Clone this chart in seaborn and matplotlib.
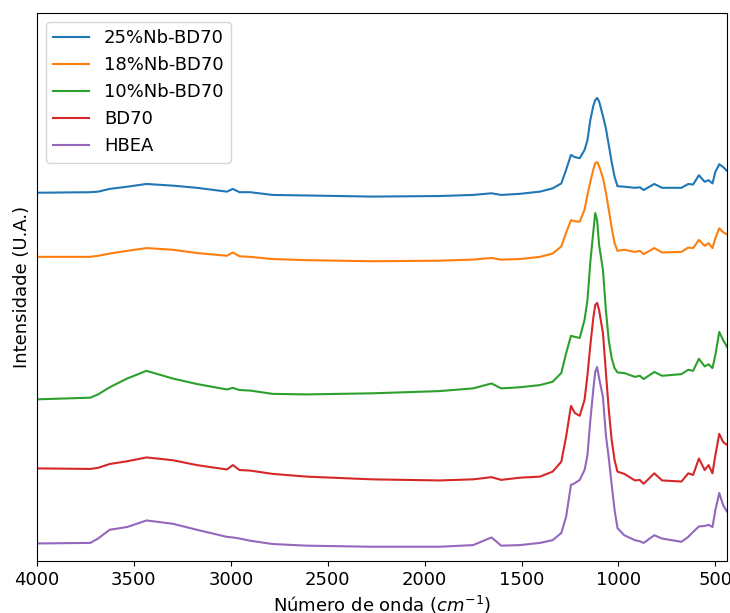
import numpy as np
import pandas as pd
import matplotlib
matplotlib.use("Agg")
import matplotlib.pyplot as plt
import seaborn as sns

# Wavenumber grid (cm^-1), shared by all spectra
wavenumber = [
    4000, 3725, 3685, 3625, 3535, 3435, 3300, 3175, 3020, 2990,
    2955, 2900, 2785, 2610, 2270, 1925, 1750, 1655, 1605, 1510,
    1405, 1340, 1295, 1270, 1245, 1225, 1200, 1175, 1160, 1145,
    1130, 1120, 1110, 1100, 1080, 1065, 1050, 1035, 1020, 1005,
    970, 915, 890, 870, 815, 775, 675, 640, 615, 585,
    555, 535, 515, 500, 480, 460, 440,
]

# Stacked intensities (a.u.)
nb25_bd70 = [
    0.672, 0.673, 0.674, 0.679, 0.683, 0.688, 0.685, 0.681, 0.674, 0.679,
    0.673, 0.673, 0.668, 0.667, 0.665, 0.666, 0.668, 0.671, 0.668, 0.670,
    0.674, 0.680, 0.689, 0.714, 0.741, 0.737, 0.735, 0.750, 0.768, 0.805,
    0.830, 0.841, 0.845, 0.839, 0.812, 0.790, 0.759, 0.728, 0.701, 0.684,
    0.683, 0.681, 0.682, 0.677, 0.688, 0.681, 0.681, 0.688, 0.687, 0.704,
    0.692, 0.695, 0.689, 0.710, 0.724, 0.719, 0.712,
]
nb18_bd70 = [
    0.555, 0.555, 0.557, 0.561, 0.566, 0.571, 0.568, 0.562, 0.557, 0.563,
    0.556, 0.555, 0.551, 0.549, 0.547, 0.548, 0.550, 0.553, 0.550, 0.551,
    0.555, 0.561, 0.574, 0.599, 0.622, 0.620, 0.619, 0.641, 0.668, 0.692,
    0.714, 0.726, 0.728, 0.721, 0.699, 0.673, 0.641, 0.608, 0.580, 0.566,
    0.568, 0.564, 0.566, 0.560, 0.571, 0.563, 0.564, 0.572, 0.571, 0.586,
    0.575, 0.580, 0.571, 0.589, 0.607, 0.600, 0.596,
]
nb10_bd70 = [
    0.295, 0.298, 0.304, 0.317, 0.333, 0.347, 0.333, 0.323, 0.313, 0.316,
    0.312, 0.311, 0.305, 0.304, 0.306, 0.310, 0.315, 0.324, 0.315, 0.317,
    0.321, 0.327, 0.343, 0.379, 0.411, 0.409, 0.407, 0.440, 0.476, 0.546,
    0.600, 0.635, 0.622, 0.577, 0.531, 0.458, 0.403, 0.370, 0.352, 0.344,
    0.343, 0.336, 0.338, 0.332, 0.345, 0.338, 0.341, 0.349, 0.347, 0.369,
    0.355, 0.359, 0.352, 0.376, 0.418, 0.403, 0.391,
]
bd70 = [
    0.169, 0.168, 0.170, 0.177, 0.182, 0.189, 0.184, 0.175, 0.167, 0.175,
    0.166, 0.165, 0.159, 0.154, 0.149, 0.147, 0.149, 0.153, 0.148, 0.152,
    0.154, 0.163, 0.181, 0.227, 0.283, 0.270, 0.265, 0.294, 0.339, 0.394,
    0.443, 0.467, 0.471, 0.458, 0.416, 0.345, 0.276, 0.221, 0.184, 0.163,
    0.159, 0.147, 0.148, 0.141, 0.160, 0.147, 0.145, 0.160, 0.157, 0.187,
    0.166, 0.175, 0.160, 0.193, 0.232, 0.217, 0.212,
]
hbea = [
    0.032, 0.033, 0.041, 0.057, 0.062, 0.074, 0.068, 0.057, 0.044, 0.043,
    0.041, 0.037, 0.031, 0.028, 0.026, 0.026, 0.029, 0.043, 0.028, 0.029,
    0.033, 0.038, 0.051, 0.081, 0.139, 0.142, 0.148, 0.166, 0.193, 0.257,
    0.312, 0.345, 0.354, 0.334, 0.299, 0.230, 0.188, 0.139, 0.093, 0.060,
    0.047, 0.038, 0.036, 0.033, 0.047, 0.041, 0.035, 0.044, 0.053, 0.063,
    0.064, 0.066, 0.062, 0.093, 0.124, 0.102, 0.090,
]

samples = ["25%Nb-BD70", "18%Nb-BD70", "10%Nb-BD70", "BD70", "HBEA"]
series = [nb25_bd70, nb18_bd70, nb10_bd70, bd70, hbea]

df = pd.concat(
    [pd.DataFrame({"wn": wavenumber, "intensity": vals, "sample": name})
     for name, vals in zip(samples, series)],
    ignore_index=True,
)

plt.rcParams["font.size"] = 13
plt.rcParams["font.family"] = ["DejaVu Sans"]

fig = plt.figure(figsize=(7.3, 6.13), dpi=100)
ax = fig.add_axes([37 / 730, 52 / 613, 690 / 730, 548 / 613])

sns.lineplot(
    data=df, x="wn", y="intensity", hue="sample", hue_order=samples,
    palette="tab10", sort=False, estimator=None, linewidth=1.5, ax=ax,
)

ax.set_xlim(4000, 440)
ax.set_ylim(0, 1)
ax.set_yticks([])
ax.set_xticks([4000, 3500, 3000, 2500, 2000, 1500, 1000, 500])
ax.set_xlabel("Número de onda ($cm^{-1}$)")
ax.set_ylabel("Intensidade (U.A.)")

handles, labels = ax.get_legend_handles_labels()
ax.legend(handles, labels, loc="upper left")

fig.savefig("out.png", dpi=100)
